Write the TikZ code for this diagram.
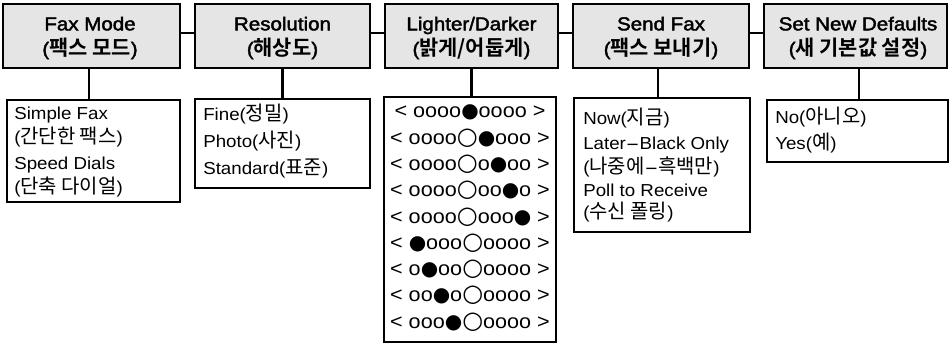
\documentclass[tikz,border=0pt]{standalone}
\usepackage{fontspec}
\usepackage{graphicx}
\setmainfont{Liberation Sans}[FakeStretch=1.08]
\newfontfamily\hdrf{Liberation Sans}[FakeStretch=1.1, FakeBold=2.2]
\newfontfamily\kr{Noto Sans CJK KR}[Scale=1.15]
\newfontfamily\krb{Noto Sans CJK KR Bold}[Scale=1.12]
\newfontfamily\symf{DejaVu Sans}
\newcommand\hk[1]{{\kr #1}}
\newcommand\hb[1]{{\krb #1}}
\newcommand\hy{\scalebox{2.2}[1]{-}}
\newcommand\dotB{{\symf ●}}
\newcommand\dotW{{\symf\fontsize{18pt}{18pt}\selectfont ○}}
\definecolor{hdr}{RGB}{229,229,229}
\tikzset{
  head/.style={draw, fill=hdr, line width=1.8pt, inner sep=0pt,
    minimum height=64*0.75pt},
  htext/.style={inner sep=0pt, align=center, font=\fontsize{14pt}{18.75pt}\hdrf},
  sub/.style={draw, line width=1.8pt, inner sep=0pt},
  item/.style={inner sep=0pt, anchor=west, font=\fontsize{13pt}{16pt}\selectfont},
  lvl/.style={inner sep=0pt, anchor=center, font=\fontsize{15pt}{16pt}\selectfont},
  link/.style={line width=1.8pt}
}
\begin{document}
\begin{tikzpicture}[x=0.75pt, y=-0.75pt]
\path[use as bounding box] (0,0) rectangle (952,346);
% headers
\node[head, minimum width=177*0.75pt] (fm) at (91.5,36) {};
\node[head, minimum width=175*0.75pt] (rs) at (282.5,36) {};
\node[head, minimum width=173*0.75pt] (ld) at (471.5,36) {};
\node[head, minimum width=176*0.75pt] (sf) at (661,36) {};
\node[head, minimum width=183*0.75pt] (nd) at (855.5,36) {};
\node[htext] (fmt) at (90,38) {Fax Mode\\(\hb{팩스 모드})};
\node[htext] (rst) at (282.5,38) {Resolution\\(\hb{해상도})};
\node[htext] (ldt) at (471.5,38) {Lighter/Darker\\(\hb{밝게/어둡게})};
\node[htext] (sft) at (661,38) {Send Fax\\(\hb{팩스 보내기})};
\node[htext] (ndt) at (858,38) {Set New Defaults\\(\hb{새 기본값 설정})};
% child boxes
\node[sub, minimum width=173*0.75pt, minimum height=102*0.75pt] (fc) at (93.5,151) {};
\node[sub, minimum width=175*0.75pt, minimum height=89*0.75pt] (rc) at (282.5,143.5) {};
\node[sub, minimum width=172*0.75pt, minimum height=245*0.75pt] (lc) at (470,219.5) {};
\node[sub, minimum width=176*0.75pt, minimum height=134*0.75pt] (sc) at (662,165) {};
\node[sub, minimum width=181*0.75pt, minimum height=62*0.75pt] (dc) at (857.5,131) {};
% connectors
\draw[link] ([yshift=2.25pt]fm.east) -- ([yshift=2.25pt]rs.west);
\draw[link] ([yshift=2.25pt]rs.east) -- ([yshift=2.25pt]ld.west);
\draw[link] ([yshift=2.25pt]ld.east) -- ([yshift=2.25pt]sf.west);
\draw[link] ([yshift=2.25pt]sf.east) -- ([yshift=2.25pt]nd.west);
\draw[link] ([xshift=-1.9pt]fm.south) -- ([xshift=-1.9pt]fm.south |- fc.north);
\draw[link] (rs.south) -- (rs.south |- rc.north);
\draw[link] (ld.south) -- (ld.south |- lc.north);
\draw[link] ([xshift=-2.25pt]sf.south) -- ([xshift=-2.25pt]sf.south |- sc.north);
\draw[link] ([xshift=2.6pt]nd.south) -- ([xshift=2.6pt]nd.south |- dc.north);
% Fax mode items
\node[item] (f1) at (14,115) {Simple Fax};
\node[item] (f2) at (14,137) {(\hk{간단한 팩스})};
\node[item] (f3) at (14,165) {Speed Dials};
\node[item] (f4) at (14,187) {(\hk{단축 다이얼})};
% Resolution items
\node[item] (r1) at (203,114) {Fine(\hk{정밀})};
\node[item] (r2) at (203,141) {Photo(\hk{사진})};
\node[item] (r3) at (203,168) {Standard(\hk{표준})};
% Lighter/Darker rows
\node[lvl] (l1) at (470,112) {< oooo\dotB oooo >};
\node[lvl] (l2) at (470,138) {< oooo\dotW\dotB ooo >};
\node[lvl] (l3) at (470,164.5) {< oooo\dotW o\dotB oo >};
\node[lvl] (l4) at (470,190.75) {< oooo\dotW oo\dotB o >};
\node[lvl] (l5) at (470,217) {< oooo\dotW ooo\dotB{} >};
\node[lvl] (l6) at (470,243) {< \dotB ooo\dotW oooo >};
\node[lvl] (l7) at (470,269.5) {< o\dotB oo\dotW oooo >};
\node[lvl] (l8) at (470,295.75) {< oo\dotB o\dotW oooo >};
\node[lvl] (l9) at (470,322) {< ooo\dotB\dotW oooo >};
% Send fax items
\node[item] (s1) at (583,118) {Now(\hk{지금})};
\node[item] (s2) at (583,145) {Later\hy Black Only};
\node[item] (s3) at (583,167) {(\hk{나중에}\hy\hk{흑백만})};
\node[item] (s4) at (583,190) {Poll to Receive};
\node[item] (s5) at (583,212) {(\hk{수신 폴링})};
% Defaults items
\node[item] (d1) at (775,117) {No(\hk{아니오})};
\node[item] (d2) at (775,143) {Yes(\hk{예})};
\end{tikzpicture}
\end{document}
